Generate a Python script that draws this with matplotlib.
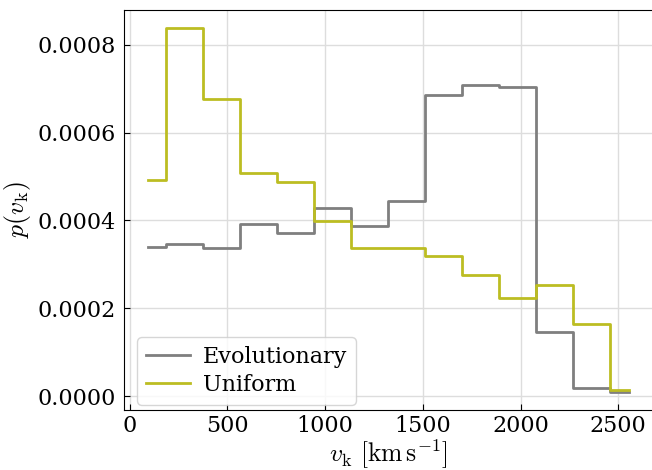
import matplotlib.pyplot as plt

plt.rcParams['font.family'] = 'DejaVu Serif'
plt.rcParams['mathtext.fontset'] = 'cm'

# bin centres of the kick-velocity histograms [km/s]
vk = [94, 283, 472, 662, 851, 1040, 1229, 1418, 1607, 1797, 1986, 2175, 2364, 2553]

# normalised densities
p_evol = [0.000340, 0.000346, 0.000338, 0.000391, 0.000372, 0.000428, 0.000388,
          0.000445, 0.000686, 0.000709, 0.000703, 0.000145, 0.000018, 0.000010]
p_unif = [0.000493, 0.000837, 0.000677, 0.000507, 0.000487, 0.000399, 0.000338,
          0.000337, 0.000319, 0.000275, 0.000224, 0.000252, 0.000163, 0.000014]

fig = plt.figure(figsize=(6.52, 4.70), dpi=100)
ax = fig.add_axes([0.190, 0.128, 0.811, 0.850])

ax.step(vk, p_evol, where='mid', color='#7f7f7f', lw=2, label='Evolutionary')
ax.step(vk, p_unif, where='mid', color='#bcbd22', lw=2, label='Uniform')

ax.set_xticks([0, 500, 1000, 1500, 2000, 2500])
ax.set_yticks([0, 0.0002, 0.0004, 0.0006, 0.0008])
ax.set_yticklabels(['0.0000', '0.0002', '0.0004', '0.0006', '0.0008'])
ax.tick_params(direction='in', labelsize=16, length=4)
ax.tick_params(axis='y', pad=6)
ax.grid(True, color='#dddddd', lw=1)
ax.set_axisbelow(True)
ax.spines['right'].set_visible(False)

ax.set_xlabel(r'$v_\mathrm{k}\ [\mathrm{km\,s^{-1}}]$', fontsize=18.5, labelpad=1)
ax.set_ylabel(r'$p(v_\mathrm{k})$', fontsize=18.5, labelpad=3)

ax.legend(loc='lower left', bbox_to_anchor=(0.025, 0.013), borderaxespad=0,
          fontsize=16, handlelength=2.0, handletextpad=0.55, labelspacing=0.25)

fig.savefig('out.png', dpi=100)
